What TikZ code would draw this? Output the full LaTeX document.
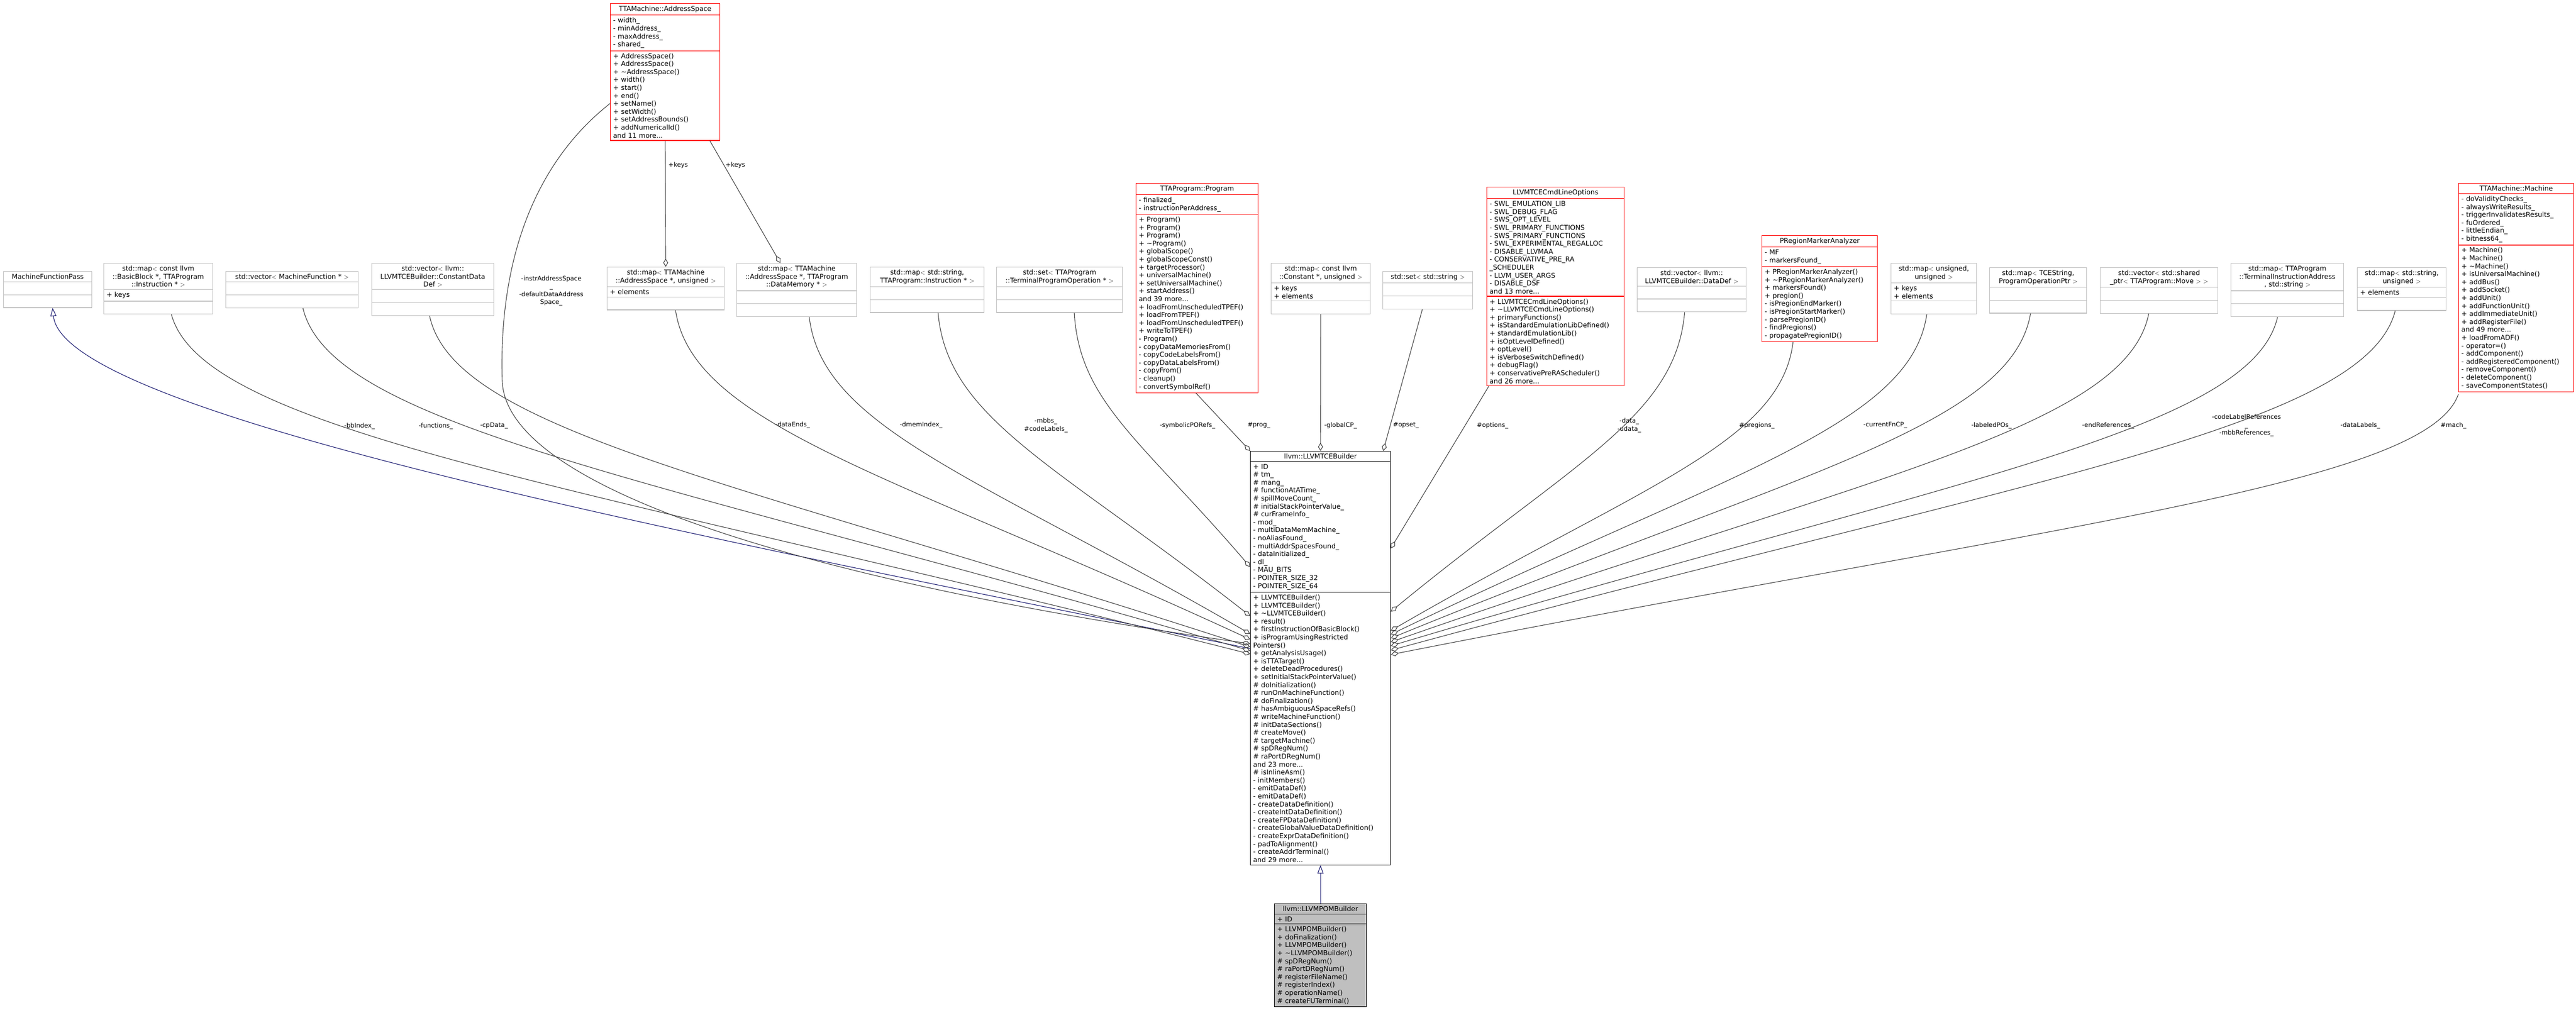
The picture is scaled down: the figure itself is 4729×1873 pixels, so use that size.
\documentclass[tikz,border=0pt]{standalone}
\usepackage{fontspec}
\setmainfont{DejaVu Sans}
\usetikzlibrary{shapes.multipart,arrows.meta,calc}
\definecolor{bred}{HTML}{FF0000}
\definecolor{bgray}{HTML}{BFBFBF}
\definecolor{egray}{HTML}{404040}
\definecolor{inhblue}{HTML}{191970}
\tikzset{
 cls/.style={rectangle split,rectangle split parts=3,draw,line width=1.2pt,inner xsep=5pt,inner ysep=4pt,
   font=\fontsize{12.4}{14.6}\selectfont,align=left},
 redbox/.style={cls,draw=bred},
 graybox/.style={cls,draw=bgray},
 blackbox/.style={cls,draw=black},
 pombox/.style={cls,draw=black,fill=bgray},
 agg/.style={draw=egray,line width=1.1pt,-{Diamond[open,length=15pt,width=9pt]}},
 inh/.style={draw=inhblue,line width=1.1pt,-{Triangle[open,length=15pt,width=11pt]}},
 lbl/.style={font=\fontsize{11.5}{14.6}\selectfont,align=center,inner sep=0pt},
}
\newcommand\umlbox[8]{\node[#5,text width=#4pt,anchor=north west] (#1) at (#2,#3)
 {\centering #6\par\nodepart{two}\raggedright #7\nodepart{three}\raggedright #8};}
\newcommand\fanedge[3]{\draw[#1] let \p1=(#2), \p2=(#3) in (\p1) .. controls
 ($(\p1)+({0.03*(\x2-\x1)},{0.35*(\y2-\y1)})$) and ($(\p2)+({-0.62*(\x2-\x1)},{-0.50*(\y2-\y1)})$) .. (\p2);}
\begin{document}
\begin{tikzpicture}[x=1pt,y=-1pt]
\useasboundingbox (0,0) rectangle (4729,1873);
% ---------- boxes ----------
\umlbox{mfp}{6}{498}{152}{graybox}{MachineFunctionPass}{\strut}{\strut}
\umlbox{bbmap}{190}{483}{190}{graybox}{std::map$<$ const llvm\\::BasicBlock *, TTAProgram\\::Instruction * $>$}{+ keys}{\strut}
\umlbox{mfvec}{414}{498}{233}{graybox}{std::vector$<$ MachineFunction * $>$}{\strut}{\strut}
\umlbox{cdd}{682}{483}{214}{graybox}{std::vector$<$ llvm::\\LLVMTCEBuilder::ConstantData\\Def $>$}{\strut}{\strut}
\umlbox{as}{1120}{6}{191}{redbox}{TTAMachine::AddressSpace}{- width\_\\- minAddress\_\\- maxAddress\_\\- shared\_}
 {+ AddressSpace()\\+ AddressSpace()\\+ \textasciitilde AddressSpace()\\+ width()\\+ start()\\+ end()\\+ setName()\\+ setWidth()\\+ setAddressBounds()\\+ addNumericalId()\\and 11 more...}
\umlbox{asmap}{1114}{490}{205}{graybox}{std::map$<$ TTAMachine\\::AddressSpace *, unsigned $>$}{+ elements}{\strut}
\umlbox{dmmap}{1352}{483}{210}{graybox}{std::map$<$ TTAMachine\\::AddressSpace *, TTAProgram\\::DataMemory * $>$}{\strut}{\strut}
\umlbox{instrmap}{1597}{490}{199}{graybox}{std::map$<$ std::string,\\ TTAProgram::Instruction * $>$}{\strut}{\strut}
\umlbox{tposet}{1829}{490}{221}{graybox}{std::set$<$ TTAProgram\\::TerminalProgramOperation * $>$}{\strut}{\strut}
\umlbox{prog}{2085}{336}{214}{redbox}{TTAProgram::Program}{- finalized\_\\- instructionPerAddress\_}
 {+ Program()\\+ Program()\\+ Program()\\+ \textasciitilde Program()\\+ globalScope()\\+ globalScopeConst()\\+ targetProcessor()\\+ universalMachine()\\+ setUniversalMachine()\\+ startAddress()\\and 39 more...\\+ loadFromUnscheduledTPEF()\\+ loadFromTPEF()\\+ loadFromUnscheduledTPEF()\\+ writeToTPEF()\\- Program()\\- copyDataMemoriesFrom()\\- copyCodeLabelsFrom()\\- copyDataLabelsFrom()\\- copyFrom()\\- cleanup()\\- convertSymbolRef()}
\umlbox{cpmap}{2333}{483}{172}{graybox}{std::map$<$ const llvm\\::Constant *, unsigned $>$}{+ keys\\+ elements}{\strut}
\umlbox{strset}{2538}{498}{155}{graybox}{std::set$<$ std::string $>$}{\strut}{\strut}
\umlbox{opts}{2729}{343}{242}{redbox}{LLVMTCECmdLineOptions}{- SWL\_EMULATION\_LIB\\- SWL\_DEBUG\_FLAG\\- SWS\_OPT\_LEVEL\\- SWL\_PRIMARY\_FUNCTIONS\\- SWS\_PRIMARY\_FUNCTIONS\\- SWL\_EXPERIMENTAL\_REGALLOC\\- DISABLE\_LLVMAA\\- CONSERVATIVE\_PRE\_RA\\\_SCHEDULER\\- LLVM\_USER\_ARGS\\- DISABLE\_DSF\\and 13 more...}
 {+ LLVMTCECmdLineOptions()\\+ \textasciitilde LLVMTCECmdLineOptions()\\+ primaryFunctions()\\+ isStandardEmulationLibDefined()\\+ standardEmulationLib()\\+ isOptLevelDefined()\\+ optLevel()\\+ isVerboseSwitchDefined()\\+ debugFlag()\\+ conservativePreRAScheduler()\\and 26 more...}
\umlbox{ddvec}{3005}{491}{190}{graybox}{std::vector$<$ llvm::\\LLVMTCEBuilder::DataDef $>$}{\strut}{\strut}
\umlbox{preg}{3234}{432}{202}{redbox}{PRegionMarkerAnalyzer}{- MF\\- markersFound\_}
 {+ PRegionMarkerAnalyzer()\\+ \textasciitilde PRegionMarkerAnalyzer()\\+ markersFound()\\+ pregion()\\- isPregionEndMarker()\\- isPregionStartMarker()\\- parsePregionID()\\- findPregions()\\- propagatePregionID()}
\umlbox{uumap}{3471}{483}{147}{graybox}{std::map$<$ unsigned,\\ unsigned $>$}{+ keys\\+ elements}{\strut}
\umlbox{tcemap}{3652}{491}{168}{graybox}{std::map$<$ TCEString,\\ ProgramOperationPtr $>$}{\strut}{\strut}
\umlbox{movevec}{3855}{491}{206}{graybox}{std::vector$<$ std::shared\\\_ptr$<$ TTAProgram::Move $>$ $>$}{\strut}{\strut}
\umlbox{tiamap}{4095}{483}{197}{graybox}{std::map$<$ TTAProgram\\::TerminalInstructionAddress\\ *, std::string $>$}{\strut}{\strut}
\umlbox{sumap}{4327}{491}{153}{graybox}{std::map$<$ std::string,\\ unsigned $>$}{+ elements}{\strut}
\umlbox{mach}{4513}{336}{201}{redbox}{TTAMachine::Machine}{- doValidityChecks\_\\- alwaysWriteResults\_\\- triggerInvalidatesResults\_\\- fuOrdered\_\\- littleEndian\_\\- bitness64\_}
 {+ Machine()\\+ Machine()\\+ \textasciitilde Machine()\\+ isUniversalMachine()\\+ addBus()\\+ addSocket()\\+ addUnit()\\+ addFunctionUnit()\\+ addImmediateUnit()\\+ addRegisterFile()\\and 49 more...\\+ loadFromADF()\\- operator=()\\- addComponent()\\- addRegisteredComponent()\\- removeComponent()\\- deleteComponent()\\- saveComponentStates()}
\umlbox{tce}{2295}{828}{247}{blackbox}{llvm::LLVMTCEBuilder}{+ ID\\\# tm\_\\\# mang\_\\\# functionAtATime\_\\\# spillMoveCount\_\\\# initialStackPointerValue\_\\\# curFrameInfo\_\\- mod\_\\- multiDataMemMachine\_\\- noAliasFound\_\\- multiAddrSpacesFound\_\\- dataInitialized\_\\- dl\_\\- MAU\_BITS\\- POINTER\_SIZE\_32\\- POINTER\_SIZE\_64}
 {+ LLVMTCEBuilder()\\+ LLVMTCEBuilder()\\+ \textasciitilde LLVMTCEBuilder()\\+ result()\\+ firstInstructionOfBasicBlock()\\+ isProgramUsingRestricted\\Pointers()\\+ getAnalysisUsage()\\+ isTTATarget()\\+ deleteDeadProcedures()\\+ setInitialStackPointerValue()\\\# doInitialization()\\\# runOnMachineFunction()\\\# doFinalization()\\\# hasAmbiguousASpaceRefs()\\\# writeMachineFunction()\\\# initDataSections()\\\# createMove()\\\# targetMachine()\\\# spDRegNum()\\\# raPortDRegNum()\\and 23 more...\\\# isInlineAsm()\\- initMembers()\\- emitDataDef()\\- emitDataDef()\\- createDataDefinition()\\- createIntDataDefinition()\\- createFPDataDefinition()\\- createGlobalValueDataDefinition()\\- createExprDataDefinition()\\- padToAlignment()\\- createAddrTerminal()\\and 29 more...}
\umlbox{pom}{2339}{1659}{159}{pombox}{llvm::LLVMPOMBuilder}{+ ID}
 {+ LLVMPOMBuilder()\\+ doFinalization()\\+ LLVMPOMBuilder()\\+ \textasciitilde LLVMPOMBuilder()\\\# spDRegNum()\\\# raPortDRegNum()\\\# registerFileName()\\\# registerIndex()\\\# operationName()\\\# createFUTerminal()}
% ---------- connector ends on tce ----------
\coordinate (tLsym) at ([yshift=-213pt]tce.north west);
\coordinate (tLmbbs) at ([yshift=-303pt]tce.north west);
\coordinate (tLdmem) at ([yshift=-336pt]tce.north west);
\coordinate (tLends) at ([yshift=-346pt]tce.north west);
\coordinate (tLinstr) at ([yshift=-354pt]tce.north west);
\coordinate (tLcp) at ([yshift=-360pt]tce.north west);
\coordinate (tLmfp) at ([yshift=-363pt]tce.north west);
\coordinate (tLfun) at ([yshift=-367pt]tce.north west);
\coordinate (tLbb) at ([yshift=-373pt]tce.north west);
\coordinate (tRopt) at ([yshift=-179pt]tce.north east);
\coordinate (tRdata) at ([yshift=-295pt]tce.north east);
\coordinate (tRpreg) at ([yshift=-330pt]tce.north east);
\coordinate (tRcur) at ([yshift=-337pt]tce.north east);
\coordinate (tRlab) at ([yshift=-344pt]tce.north east);
\coordinate (tRend) at ([yshift=-351pt]tce.north east);
\coordinate (tRcode) at ([yshift=-358pt]tce.north east);
\coordinate (tRdl) at ([yshift=-366pt]tce.north east);
\coordinate (tRmach) at ([yshift=-374pt]tce.north east);
\coordinate (tTprog) at (tce.north west);
\coordinate (tTopset) at ([xshift=-14pt]tce.north east);
% ---------- connectors ----------
\draw[inh] (tLmfp) .. controls +(-950pt,195pt) and +(20,200) .. ([xshift=9pt]mfp.south);
\fanedge{agg}{[xshift=24pt]bbmap.south}{tLbb}
\fanedge{agg}{[xshift=20pt]mfvec.south}{tLfun}
\fanedge{agg}{[xshift=-6pt]cdd.south}{tLcp}
\draw[agg] ([yshift=-184pt]as.north west) .. controls (980,300) and (915,480) .. (922,700)
  .. controls (930,900) and (1500,1070) .. (tLinstr);
\fanedge{agg}{[xshift=18pt]asmap.south}{tLends}
\fanedge{agg}{[xshift=23pt]dmmap.south}{tLdmem}
\fanedge{agg}{[xshift=20pt]instrmap.south}{tLmbbs}
\fanedge{agg}{[xshift=27pt]tposet.south}{tLsym}
\draw[agg] ([xshift=-2pt]prog.south) -- (tTprog);
\draw[agg] (cpmap.south) -- (tce.north);
\draw[agg] ([xshift=-10pt]strset.south) -- (tTopset);
\draw[agg] ([xshift=4pt]opts.south west) -- (tRopt);
\fanedge{agg}{[xshift=-13pt]ddvec.south}{tRdata}
\fanedge{agg}{[xshift=-49pt]preg.south}{tRpreg}
\fanedge{agg}{[xshift=-13pt]uumap.south}{tRcur}
\fanedge{agg}{[xshift=-14pt]tcemap.south}{tRlab}
\fanedge{agg}{[xshift=-19pt]movevec.south}{tRend}
\fanedge{agg}{[xshift=-18pt]tiamap.south}{tRcode}
\fanedge{agg}{[xshift=-12pt]sumap.south}{tRdl}
\fanedge{agg}{[yshift=-388pt]mach.north west}{tRmach}
\draw[agg] (as.south) -- (asmap.north);
\draw[agg] ([xshift=-19pt]as.south east) -- ([xshift=-30pt]dmmap.north);
\draw[inh] (pom.north) -- (tce.south);
% ---------- labels ----------
\node[lbl] (l1) at (660,782) {-bbIndex\_};
\node[lbl] (l2) at (800,782) {-functions\_};
\node[lbl] (l3) at (907,782) {-cpData\_};
\node[lbl] (l4) at (1012,534) {-instrAddressSpace\\\_\\-defaultDataAddress\\Space\_};
\node[lbl] (l5) at (1455,780) {-dataEnds\_};
\node[lbl] (l6) at (1691,780) {-dmemIndex\_};
\node[lbl] (l7) at (1920,781) {-mbbs\_\\\#codeLabels\_};
\node[lbl] (l8) at (2180,781) {-symbolicPORefs\_};
\node[lbl] (l9) at (2311,781) {\#prog\_};
\node[lbl] (l10) at (2461,781) {-globalCP\_};
\node[lbl] (l11) at (2581,781) {\#opset\_};
\node[lbl] (l12) at (2740,781) {\#options\_};
\node[lbl] (l13) at (2991,781) {-data\_\\-udata\_};
\node[lbl] (l14) at (3225,781) {\#pregions\_};
\node[lbl] (l15) at (3461,781) {-currentFnCP\_};
\node[lbl] (l16) at (3656,781) {-labeledPOs\_};
\node[lbl] (l17) at (3870,781) {-endReferences\_};
\node[lbl] (l18) at (4124,781) {-codeLabelReferences\\\_\\-mbbReferences\_};
\node[lbl] (l19) at (4333,781) {-dataLabels\_};
\node[lbl] (l20) at (4504,781) {\#mach\_};
\node[lbl] (l21) at (1245,303) {+keys};
\node[lbl] (l22) at (1350,303) {+keys};
\end{tikzpicture}
\end{document}
